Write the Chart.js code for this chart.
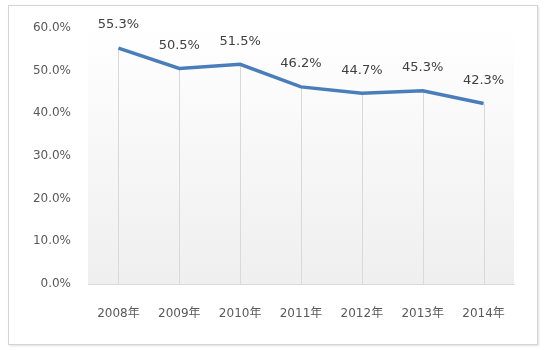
<!DOCTYPE html>
<html>
<head>
<meta charset="utf-8">
<script src="https://cdn.jsdelivr.net/npm/chart.js@4/dist/chart.umd.min.js"></script>
<style>
html,body{margin:0;padding:0;background:#fff}
#wrap{position:relative;width:544px;height:350px}
#caixa{position:absolute;left:8px;top:5px;width:528px;height:338px;border:1px solid #d4d4d4;box-shadow:1px 1px 2px rgba(0,0,0,.12)}
#grafico{position:absolute;left:0;top:0}
</style>
</head>
<body>
<div id="wrap">
<div id="caixa"></div>
<canvas id="grafico" width="544" height="350"></canvas>
</div>
<script>
let anos=['2008年','2009年','2010年','2011年','2012年','2013年','2014年']
let taxas=[55.3,50.5,51.5,46.2,44.7,45.3,42.3]
let ticksY=[0,10,20,30,40,50,60]

let fonte='"DejaVu Sans","Noto Sans CJK SC",sans-serif'

// fundo em degradê da área do gráfico
let fundoPlot={
id:'fundoPlot',
beforeDraw(chart){
let{ctx,chartArea:a}=chart
let g=ctx.createLinearGradient(0,a.top,0,a.bottom)
g.addColorStop(0,'#ffffff')
g.addColorStop(1,'#efefef')
ctx.save()
ctx.fillStyle=g
ctx.fillRect(a.left,a.top,a.right-a.left,a.bottom-a.top)
ctx.restore()
}
}

// linhas verticais de cada ponto até o eixo
let linhasQueda={
id:'linhasQueda',
beforeDatasetsDraw(chart){
let{ctx,chartArea:a}=chart
let meta=chart.getDatasetMeta(0)
ctx.save()
ctx.strokeStyle='#d9d9d9'
ctx.lineWidth=1
meta.data.forEach(p=>{
let x=Math.round(p.x)+.5
ctx.beginPath()
ctx.moveTo(x,p.y)
ctx.lineTo(x,a.bottom)
ctx.stroke()
})
ctx.restore()
}
}

// rótulos de valor acima dos pontos
let rotulos={
id:'rotulos',
afterDatasetsDraw(chart){
let{ctx}=chart
let meta=chart.getDatasetMeta(0)
ctx.save()
ctx.font='13px '+fonte
ctx.fillStyle='#404040'
ctx.textAlign='center'
ctx.textBaseline='middle'
meta.data.forEach((p,i)=>{
ctx.fillText(taxas[i].toFixed(1)+'%',p.x,p.y-23)
})
ctx.restore()
}
}

new Chart(document.getElementById('grafico'),{
type:'line',
data:{
labels:anos,
datasets:[{
data:taxas,
borderColor:'#4a7ebb',
borderWidth:3.5,
pointRadius:0,
tension:0,
fill:false
}]
},
options:{
responsive:false,
animation:false,
layout:{padding:{left:0,right:30,top:28,bottom:0}},
plugins:{legend:{display:false},tooltip:{enabled:false}},
scales:{
x:{
offset:true,
grid:{display:false,drawTicks:false},
border:{display:true,color:'#d9d9d9',width:1},
ticks:{color:'#595959',font:{family:fonte,size:12},padding:23},
afterFit(s){s.height=66}
},
y:{
min:0,
max:60,
afterBuildTicks(s){s.ticks=ticksY.map(v=>({value:v}))},
grid:{display:false,drawTicks:false},
border:{display:false},
ticks:{color:'#595959',font:{family:fonte,size:12},padding:17,callback:v=>v.toFixed(1)+'%'},
afterFit(s){s.width=88}
}
}
},
plugins:[fundoPlot,linhasQueda,rotulos]
})
</script>
</body>
</html>
